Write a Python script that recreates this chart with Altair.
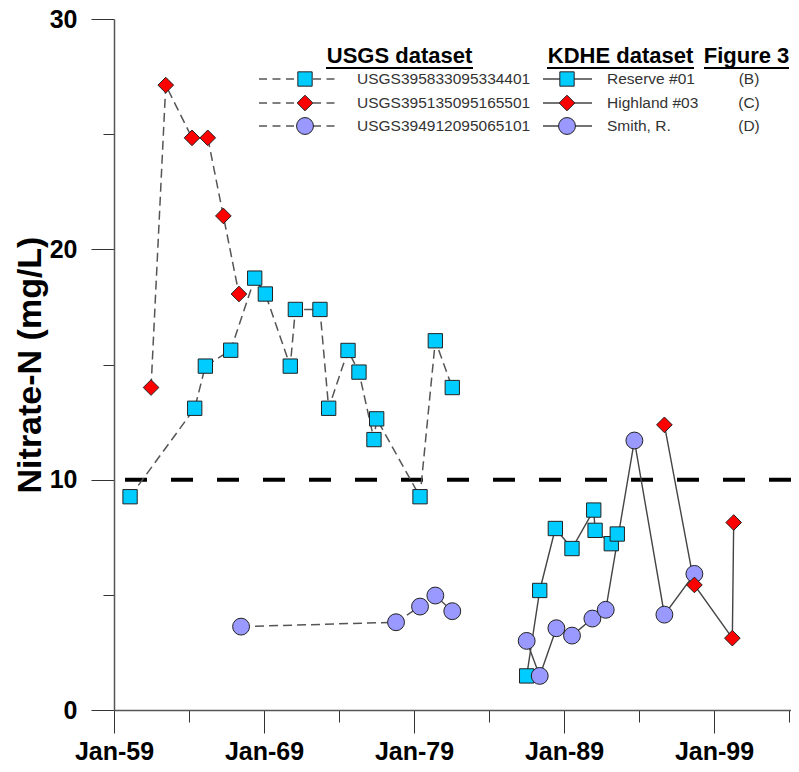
import altair as alt
import pandas as pd

# ---------------- data ----------------
# USGS dataset (dashed lines)
usgs_reserve_year = [1960.07, 1964.38, 1965.09, 1966.78, 1968.38, 1969.09, 1970.75, 1971.09, 1972.73,
                     1973.31, 1974.60, 1975.33, 1976.33, 1976.51, 1979.40, 1980.42, 1981.55]
usgs_reserve_no3 = [9.26, 13.10, 14.93, 15.62, 18.75, 18.06, 14.93, 17.39, 17.39,
                    13.10, 15.61, 14.67, 11.74, 12.64, 9.26, 16.03, 14.00]
usgs_highland_year = [1961.47, 1962.45, 1964.20, 1965.25, 1966.29, 1967.33]
usgs_highland_no3 = [14.00, 27.13, 24.84, 24.84, 21.45, 18.06]
usgs_smith_year = [1967.47, 1977.80, 1979.40, 1980.42, 1981.55]
usgs_smith_no3 = [3.62, 3.81, 4.49, 4.97, 4.29]

# KDHE dataset (solid lines)
kdhe_reserve_year = [1986.51, 1987.38, 1988.42, 1989.53, 1990.98, 1991.07, 1992.15, 1992.55]
kdhe_reserve_no3 = [1.48, 5.19, 7.88, 7.01, 8.68, 7.80, 7.22, 7.64]
kdhe_highland_year = [1995.69, 1997.69, 2000.22, 2000.31]
kdhe_highland_no3 = [12.38, 5.43, 3.12, 8.14]
kdhe_smith_year = [1986.51, 1987.38, 1988.49, 1989.53, 1990.89, 1991.78, 1993.69, 1995.69, 1997.69]
kdhe_smith_no3 = [3.00, 1.48, 3.55, 3.23, 3.97, 4.35, 11.70, 4.14, 5.91]

sites = ["Reserve", "Highland", "Smith"]
usgs_ids = ["USGS395833095334401", "USGS395135095165501", "USGS394912095065101"]
kdhe_names = ["Reserve #01", "Highland #03", "Smith, R."]
figure_panels = ["(B)", "(C)", "(D)"]
headers = ["USGS dataset", "KDHE dataset", "Figure 3"]

x_tick_years = [1959, 1964, 1969, 1974, 1979, 1984, 1989, 1994, 1999, 2004]
y_ticks = [0, 5, 10, 15, 20, 25, 30]
mcl_value = [10]

# ---------------- styles ----------------
FONT = "Liberation Sans"
site_fill = ["#00CCFF", "#FF0000", "#9999FF"]
site_shape = ["square", "diamond", "circle"]
site_size = [205, 285, 240]
site_z = [0, 2, 1]

series = [
    ("USGS", "Reserve", usgs_reserve_year, usgs_reserve_no3),
    ("USGS", "Highland", usgs_highland_year, usgs_highland_no3),
    ("USGS", "Smith", usgs_smith_year, usgs_smith_no3),
    ("KDHE", "Reserve", kdhe_reserve_year, kdhe_reserve_no3),
    ("KDHE", "Highland", kdhe_highland_year, kdhe_highland_no3),
    ("KDHE", "Smith", kdhe_smith_year, kdhe_smith_no3),
]
rows = []
for src, site, xs, ys in series:
    for xv, yv in zip(xs, ys):
        rows.append({"source": src, "site": site, "series": src + "-" + site,
                     "year": xv, "no3": yv, "z": site_z[sites.index(site)]})
df = pd.DataFrame(rows)

fill_scale = alt.Scale(domain=sites, range=site_fill)
shape_scale = alt.Scale(domain=sites, range=site_shape)
size_scale = alt.Scale(domain=sites, range=site_size)

xaxis = alt.Axis(
    values=x_tick_years,
    labelExpr="datum.value % 10 == 9 ? 'Jan-' + (datum.value % 100) : ''",
    tickSize={"condition": {"test": "datum.value % 10 == 9", "value": 23}, "value": 12},
    labelFont=FONT, labelFontSize=25, labelFontWeight="bold", labelColor="black",
    labelPadding=6, labelFlush=False, labelOverlap=False,
    domainColor="#555555", domainWidth=1.5, tickColor="#333333", tickWidth=1,
    grid=False, title=None,
)
yaxis = alt.Axis(
    values=y_ticks,
    labelExpr="datum.value % 10 == 0 ? toString(datum.value) : ''",
    tickSize={"condition": {"test": "datum.value % 10 == 0", "value": 23}, "value": 11},
    labelFont=FONT, labelFontSize=25, labelFontWeight="bold", labelColor="black",
    labelPadding=14, labelOverlap=False,
    domainColor="#555555", domainWidth=1.5, tickColor="#333333", tickWidth=1,
    grid=False,
    title="Nitrate-N (mg/L)", titleFont=FONT, titleFontSize=34, titleFontWeight="bold",
    titleColor="black", titleAngle=-90, titleX=-74, titleY=345.5,
    titleAlign="center", titleBaseline="alphabetic",
)

X = alt.X("year:Q", scale=alt.Scale(domain=[1959, 2004.13], nice=False, zero=False), axis=xaxis)
Y = alt.Y("no3:Q", scale=alt.Scale(domain=[0, 30], nice=False, zero=False), axis=yaxis)

base = alt.Chart(df)

mcl = alt.Chart(pd.DataFrame({"no3": mcl_value})).mark_rule(
    color="#000000", strokeWidth=4, strokeDash=[22, 24]
).encode(y=alt.Y("no3:Q"))

usgs_lines = base.transform_filter("datum.source == 'USGS'").mark_line(
    color="#555555", strokeWidth=1.5, strokeDash=[9, 5]
).encode(x=X, y=Y, detail="series:N", order="year:Q")

kdhe_lines = base.transform_filter("datum.source == 'KDHE'").mark_line(
    color="#444444", strokeWidth=1.4
).encode(x=X, y=Y, detail="series:N", order="year:Q")

points = base.mark_point(filled=True, opacity=1, stroke="#222222", strokeWidth=1).encode(
    x=X, y=Y,
    fill=alt.Fill("site:N", scale=fill_scale, legend=None),
    shape=alt.Shape("site:N", scale=shape_scale, legend=None),
    size=alt.Size("site:N", scale=size_scale, legend=None),
    order=alt.Order("z:Q"),
)

# ---------------- custom legend (pixel positions inside plot area) ----------------
row_y = [60, 84, 107]
hdr = pd.DataFrame({"text": headers, "px": [285.5, 506.5, 632.5], "py": [44, 44, 44],
                    "ux": [212, 433, 590], "ux2": [359, 580, 675], "uy": [49, 49, 49]})
PX = lambda f: alt.X(f, scale=None, axis=None)
PY = lambda f: alt.Y(f, scale=None, axis=None)

hdr_text = alt.Chart(hdr).mark_text(font=FONT, fontSize=22, fontWeight="bold", color="black",
                                    align="center", baseline="alphabetic").encode(
    x=PX("px:Q"), y=PY("py:Q"), text="text:N")
hdr_line = alt.Chart(hdr).mark_rule(color="black", strokeWidth=1.8).encode(
    x=PX("ux:Q"), x2="ux2:Q", y=PY("uy:Q"))

leg = pd.DataFrame({"site": sites, "py": row_y, "usgs": usgs_ids, "kdhe": kdhe_names,
                    "fig": figure_panels,
                    "dx": [145] * 3, "dx2": [224] * 3, "dm": [191] * 3,
                    "sx": [429] * 3, "sx2": [478] * 3, "sm": [453] * 3,
                    "tu": [243] * 3, "tk": [493] * 3, "tf": [635] * 3})

leg_dash = alt.Chart(leg).mark_rule(color="#555555", strokeWidth=1.4, strokeDash=[8, 5.5]).encode(
    x=PX("dx:Q"), x2="dx2:Q", y=PY("py:Q"))
leg_solid = alt.Chart(leg).mark_rule(color="#444444", strokeWidth=1.4).encode(
    x=PX("sx:Q"), x2="sx2:Q", y=PY("py:Q"))
mk = dict(filled=True, opacity=1, stroke="#222222", strokeWidth=1)
sym_enc = dict(
    fill=alt.Fill("site:N", scale=fill_scale, legend=None),
    shape=alt.Shape("site:N", scale=shape_scale, legend=None),
    size=alt.Size("site:N", scale=size_scale, legend=None),
)
leg_mk1 = alt.Chart(leg).mark_point(**mk).encode(x=PX("dm:Q"), y=PY("py:Q"), **sym_enc)
leg_mk2 = alt.Chart(leg).mark_point(**mk).encode(x=PX("sm:Q"), y=PY("py:Q"), **sym_enc)
tstyle = dict(font=FONT, fontSize=15.5, color="#333333", baseline="middle")
leg_t1 = alt.Chart(leg).mark_text(align="left", **tstyle).encode(x=PX("tu:Q"), y=PY("py:Q"), text="usgs:N")
leg_t2 = alt.Chart(leg).mark_text(align="left", **tstyle).encode(x=PX("tk:Q"), y=PY("py:Q"), text="kdhe:N")
leg_t3 = alt.Chart(leg).mark_text(align="center", **tstyle).encode(x=PX("tf:Q"), y=PY("py:Q"), text="fig:N")

chart = alt.layer(
    mcl, usgs_lines, kdhe_lines, points,
    hdr_text, hdr_line, leg_dash, leg_solid, leg_mk1, leg_mk2, leg_t1, leg_t2, leg_t3,
).properties(
    width=677, height=691,
    padding={"left": 106, "top": 11, "right": 0, "bottom": 54},
    autosize="none",
    background="white",
).configure_view(stroke=None)

chart.save("out.html", embed_options={"renderer": "svg", "actions": False})
